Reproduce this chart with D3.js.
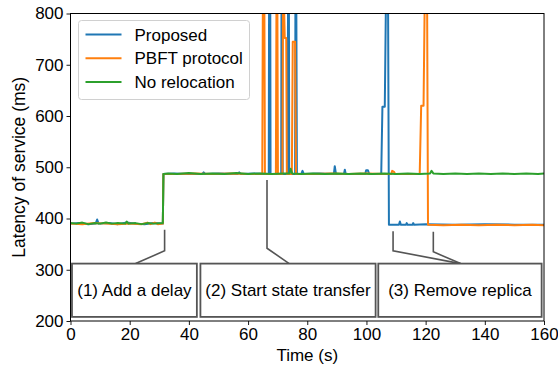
<!DOCTYPE html>
<html>
<head>
<meta charset="utf-8">
<script src="https://cdn.jsdelivr.net/npm/d3@7"></script>
<style>
  body { margin: 0; background: #fff; }
  svg { font-family: "Liberation Sans", Arial, sans-serif; }
</style>
</head>
<body>
<svg id="chart" width="558" height="367"></svg>
<script>
// series values, [time (s), latency (ms)]
const proposed = [
  [0, 390], [3, 391], [6, 389], [8.5, 390], [9, 398], [9.5, 390], [13, 391], [16, 389], [19, 392],
  [22, 390], [25, 389], [28, 391], [31.2, 390], [31.4, 487], [35, 488], [40, 487], [44.5, 487],
  [45, 490], [45.5, 487], [50, 488], [56.5, 487], [57, 490], [57.5, 487], [62, 488], [67, 487],
  [67.1, 830], [67.5, 830], [67.6, 487], [71.2, 487], [71.3, 830], [71.6, 830], [71.7, 487],
  [73.4, 487], [73.5, 830], [73.8, 830], [73.9, 487], [75.9, 487], [76, 830], [76.3, 830],
  [76.5, 487], [78, 487], [78.4, 493], [78.8, 487], [84, 488], [89, 487], [89.3, 502],
  [89.7, 487], [92.4, 487], [92.7, 495], [93, 487], [99.6, 487], [99.9, 494], [100.5, 494],
  [100.9, 487], [105, 487], [105.4, 618], [106.2, 618], [106.6, 830], [107.3, 830], [107.6, 388],
  [111, 388], [111.3, 394], [111.6, 388], [113.4, 388], [113.6, 391], [113.9, 388], [115.6, 388],
  [115.8, 391], [116.1, 388], [120, 389], [130, 388], [140, 389], [150, 388], [160, 388]
]

const pbft = [
  [0, 390], [4, 389], [8, 391], [12, 390], [16, 389], [20, 390], [24, 389], [26, 392], [27, 389],
  [28.5, 392], [29.5, 389], [31.2, 390], [31.4, 487], [36, 487], [42, 488], [48, 487], [54, 488],
  [60, 487], [64.8, 487], [65, 830], [65.5, 830], [65.7, 487], [69.4, 487], [69.6, 830],
  [69.9, 830], [70.1, 487], [71.6, 487], [71.8, 830], [72.1, 830], [72.4, 752], [72.9, 752],
  [73.1, 487], [74.8, 487], [75.1, 745], [75.9, 745], [76.2, 487], [82, 487], [88, 488],
  [94, 487], [100, 488], [106, 487], [108.4, 487], [108.7, 493], [109.3, 491], [109.7, 487],
  [114, 487], [118, 487], [118.5, 620], [119.3, 620], [119.7, 830], [120.5, 830], [120.8, 388],
  [126, 387], [132, 388], [138, 387], [144, 388], [150, 387], [156, 388], [160, 387]
]

const noRelocation = [
  [0, 391], [2, 390], [4, 392], [6, 389], [8, 391], [10, 390], [12, 392], [14, 390], [16, 391],
  [18.5, 390], [19, 394], [19.6, 390], [22, 391], [24, 389], [26, 391], [28, 390], [31.2, 391],
  [31.4, 487], [33, 488], [36, 487], [40, 489], [44, 487], [48, 488], [52, 487], [56, 489],
  [60, 487], [64, 488], [68, 487], [72, 488], [74, 488], [74.4, 497], [74.9, 488], [78, 487],
  [82, 488], [86, 487], [90, 488], [94, 487], [98, 488], [102, 487], [106, 488], [110, 487],
  [114, 488], [118, 487], [121.5, 488], [122, 493], [122.6, 488], [126, 487], [130, 488],
  [134, 487], [138, 488], [142, 487], [146, 488], [150, 487], [154, 488], [158, 487], [160, 488]
]

const seriesNames = ['Proposed', 'PBFT protocol', 'No relocation']
const seriesColors = ['#1f77b4', '#ff7f0e', '#2ca02c']

const xTicks = [0, 20, 40, 60, 80, 100, 120, 140, 160]
const yTicks = [200, 300, 400, 500, 600, 700, 800]

// annotation boxes: time range, latency range, label, arrow tips [time, latency, elbow latency]
const boxes = [
  { x0: 0.5, x1: 42.7, y0: 208, y1: 312, label: '(1) Add a delay', from: 22, tips: [[31.8, 378, 337]] },
  { x0: 43.9, x1: 103.1, y0: 208, y1: 312, label: '(2) Start state transfer', from: 73.9, tips: [[66.4, 475, 342]] },
  { x0: 104, x1: 159.2, y0: 208, y1: 312, label: '(3) Remove replica', from: 131.8, tips: [[109, 375, 337], [122.6, 374, 335]] }
]

const width = 558
const height = 367
const margin = { top: 13.5, right: 14, bottom: 46, left: 70.5 }
const aWidth = width - margin.left - margin.right
const aHeight = height - margin.top - margin.bottom
const fontSize = '17px'

const svg = d3.select('#chart')

const xScale = d3.scaleLinear().domain([0, 160]).range([0, aWidth])
const yScale = d3.scaleLinear().domain([200, 800]).range([aHeight, 0])

const g = svg.append('g')
  .attr('transform', 'translate(' + margin.left + ',' + margin.top + ')')

g.append('defs').append('clipPath')
  .attr('id', 'plot-clip')
  .append('rect')
  .attr('width', aWidth)
  .attr('height', aHeight)

// axes
const xAxis = g.append('g')
  .attr('transform', 'translate(0,' + aHeight + ')')
  .call(d3.axisBottom(xScale).tickValues(xTicks).tickSize(4).tickPadding(3))
const yAxis = g.append('g')
  .call(d3.axisLeft(yScale).tickValues(yTicks).tickSize(4).tickPadding(3))

;[xAxis, yAxis].forEach(ax => {
  ax.select('.domain').remove()
  ax.selectAll('.tick line').attr('stroke', '#000').attr('stroke-width', 0.9)
  ax.selectAll('.tick text').attr('fill', '#000').style('font-size', fontSize)
})

// lines
const line = d3.line()
  .x(d => xScale(d[0]))
  .y(d => yScale(d[1]))

const lines = g.append('g').attr('clip-path', 'url(#plot-clip)')
;[proposed, pbft, noRelocation].forEach((data, i) => {
  lines.append('path')
    .datum(data)
    .attr('d', line)
    .attr('fill', 'none')
    .attr('stroke', seriesColors[i])
    .attr('stroke-width', 2)
    .attr('stroke-linejoin', 'round')
})

// annotations
const ann = g.append('g')
boxes.forEach(b => {
  const top = yScale(b.y1)
  b.tips.forEach(t => {
    ann.append('path')
      .attr('d', d3.line()([
        [xScale(b.from), top],
        [xScale(t[0]), yScale(t[2])],
        [xScale(t[0]), yScale(t[1])]
      ]))
      .attr('fill', 'none')
      .attr('stroke', '#555')
      .attr('stroke-width', 1.6)
  })
  ann.append('rect')
    .attr('x', xScale(b.x0))
    .attr('y', top)
    .attr('width', xScale(b.x1) - xScale(b.x0))
    .attr('height', yScale(b.y0) - top)
    .attr('fill', '#fff')
    .attr('stroke', '#555')
    .attr('stroke-width', 1.8)
  ann.append('text')
    .attr('x', (xScale(b.x0) + xScale(b.x1)) / 2)
    .attr('y', (top + yScale(b.y0)) / 2)
    .attr('dy', '0.36em')
    .attr('text-anchor', 'middle')
    .style('font-size', fontSize)
    .text(b.label)
})

// frame
g.append('rect')
  .attr('width', aWidth)
  .attr('height', aHeight)
  .attr('fill', 'none')
  .attr('stroke', '#000')
  .attr('stroke-width', 1)

// legend
const legend = g.append('g').attr('transform', 'translate(8,7)')
legend.append('rect')
  .attr('width', 171)
  .attr('height', 79)
  .attr('rx', 3)
  .attr('fill', '#fff')
  .attr('fill-opacity', 0.8)
  .attr('stroke', '#d0d0d0')
seriesNames.forEach((name, i) => {
  const row = legend.append('g').attr('transform', 'translate(0,' + (14 + i * 23.7) + ')')
  row.append('line')
    .attr('x1', 7).attr('x2', 43)
    .attr('stroke', seriesColors[i])
    .attr('stroke-width', 2)
  row.append('text')
    .attr('x', 56)
    .attr('dy', '0.36em')
    .style('font-size', fontSize)
    .text(name)
})

// axis labels
svg.append('text')
  .attr('x', margin.left + aWidth / 2)
  .attr('y', height - 6)
  .attr('text-anchor', 'middle')
  .style('font-size', fontSize)
  .text('Time (s)')

svg.append('text')
  .attr('transform', 'translate(19,' + (margin.top + aHeight / 2) + ') rotate(-90)')
  .attr('text-anchor', 'middle')
  .attr('dy', '0.36em')
  .style('font-size', '17.5px')
  .text('Latency of service (ms)')
</script>
</body>
</html>
